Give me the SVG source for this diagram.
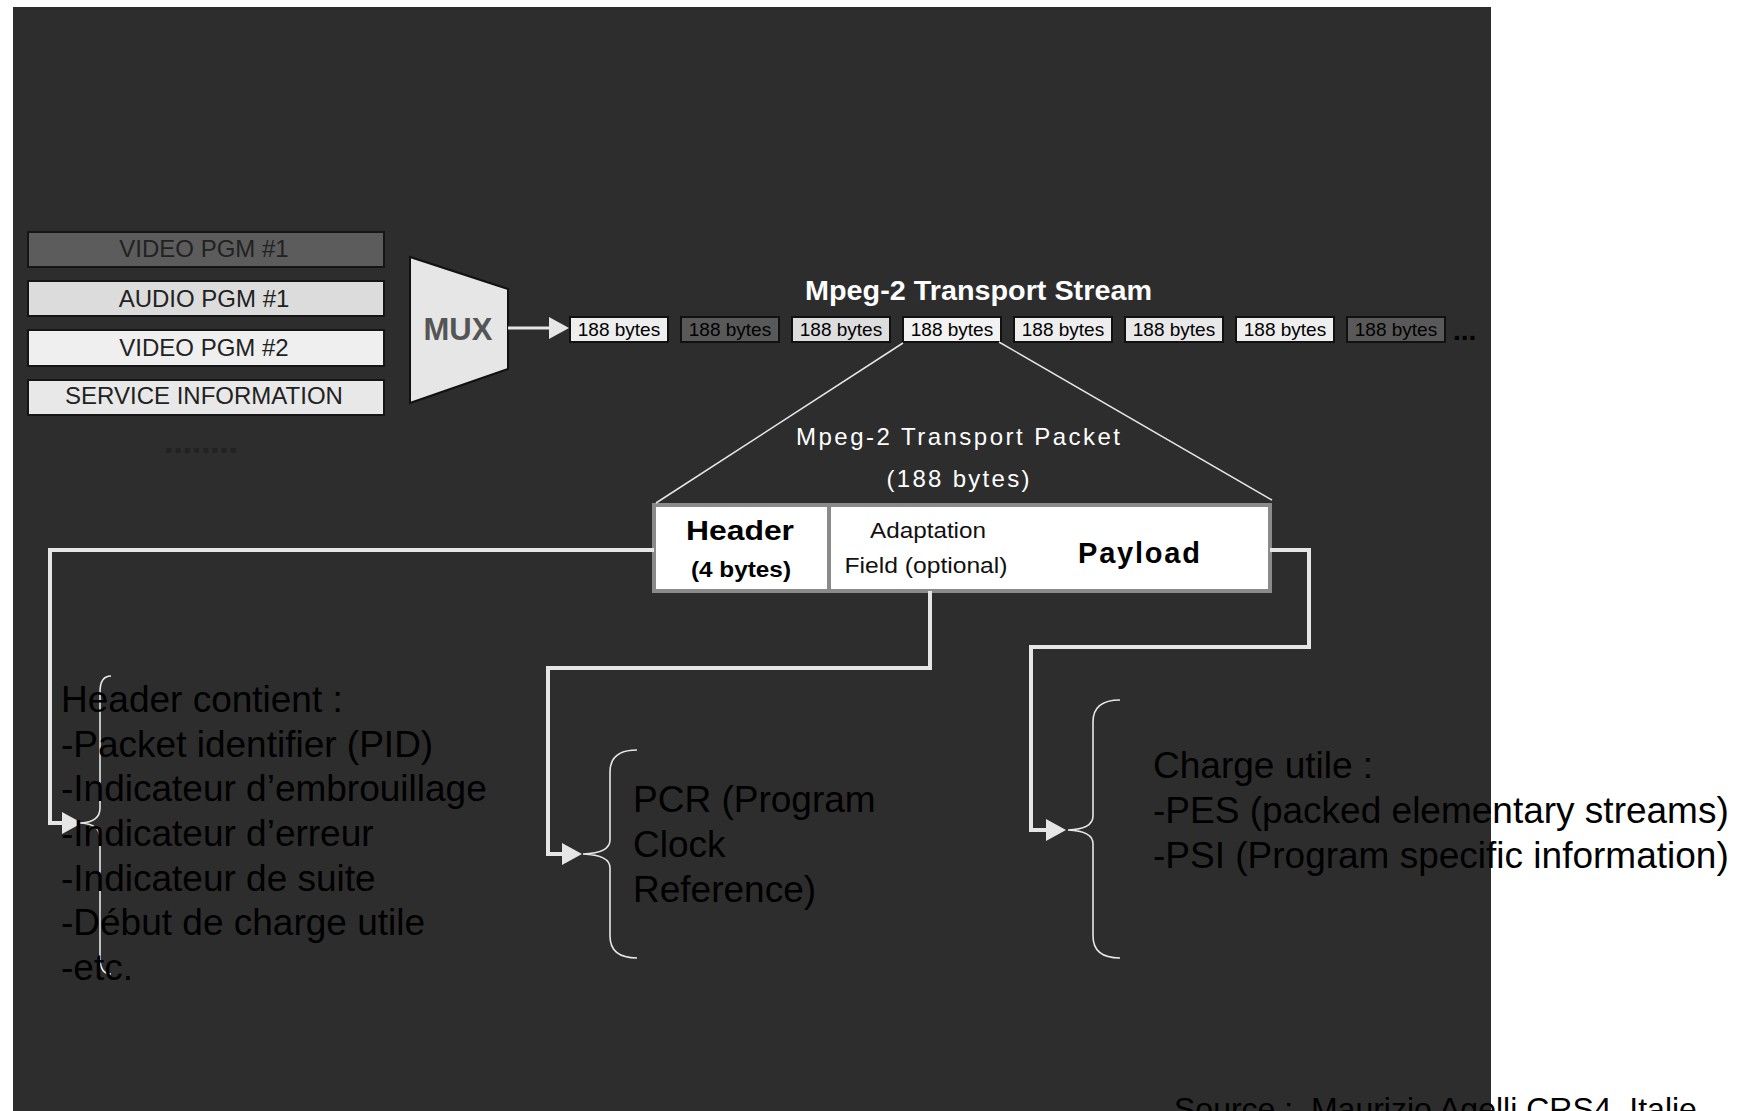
<svg xmlns="http://www.w3.org/2000/svg" width="1751" height="1111" viewBox="0 0 1751 1111">
<style>
text{font-family:"Liberation Sans",Arial,sans-serif}
.src rect{stroke:#151515;stroke-width:2}
.src text{font-size:24px;text-anchor:middle;fill:#222}
.pkt rect{stroke:#111;stroke-width:2}
.pkt text{font-size:19px;text-anchor:middle;fill:#000}
.conn{fill:none;stroke:#e6e6e6;stroke-width:4;stroke-linejoin:miter}
.brace{fill:none;stroke:#e6e6e6;stroke-width:1.6}
.thin{fill:none;stroke:#e6e6e6;stroke-width:1.5}
.note{font-size:37px;fill:#000}
.w{fill:#fff}
</style>
<defs>
<marker id="ah" markerUnits="userSpaceOnUse" viewBox="0 0 20 22" refX="0" refY="11" markerWidth="20" markerHeight="22" orient="auto">
<path d="M0,0 L20,11 L0,22 z" fill="#e6e6e6"/>
</marker>
</defs>
<rect x="0" y="0" width="1751" height="1111" fill="#fff"/>
<rect x="13" y="7" width="1478" height="1104" fill="#2d2d2d"/>

<g id="sources" class="src">
<g id="video1"><rect x="28" y="232" width="356" height="35" fill="#5c5c5c"/><text x="204" y="257" fill="#2a2a2a">VIDEO PGM #1</text></g>
<g id="audio1"><rect x="28" y="281" width="356" height="35" fill="#dcdcdc"/><text x="204" y="307">AUDIO PGM #1</text></g>
<g id="video2"><rect x="28" y="330" width="356" height="36" fill="#efefef"/><text x="204" y="356">VIDEO PGM #2</text></g>
<g id="si"><rect x="28" y="380" width="356" height="35" fill="#e8e8e8"/><text x="204" y="404">SERVICE INFORMATION</text></g>
<text x="164" y="453" class="w" style="font-size:34px;font-weight:bold;text-anchor:start" textLength="74" lengthAdjust="spacing">........</text>
</g>

<g id="mux">
<polygon points="410,257 508,289 508,369 410,403" fill="#e6e6e6" stroke="#111" stroke-width="2"/>
<text x="458" y="340" style="font-size:31px;font-weight:bold;fill:#555;text-anchor:middle">MUX</text>
</g>

<text id="ts-title" x="805" y="300" class="w" style="font-size:27px;font-weight:bold" textLength="347" lengthAdjust="spacingAndGlyphs">Mpeg-2 Transport Stream</text>

<g id="stream" class="pkt">
<g id="p1"><rect x="570" y="317" width="98" height="25" fill="#eeeeee"/><text x="619" y="336">188 bytes</text></g>
<g id="p2"><rect x="681" y="317" width="98" height="25" fill="#595959"/><text x="730" y="336" fill="#333">188 bytes</text></g>
<g id="p3"><rect x="792" y="317" width="98" height="25" fill="#dddddd"/><text x="841" y="336">188 bytes</text></g>
<g id="p4"><rect x="903" y="317" width="98" height="25" fill="#f2f2f2"/><text x="952" y="336">188 bytes</text></g>
<g id="p5"><rect x="1014" y="317" width="98" height="25" fill="#eeeeee"/><text x="1063" y="336">188 bytes</text></g>
<g id="p6"><rect x="1125" y="317" width="98" height="25" fill="#e8e8e8"/><text x="1174" y="336">188 bytes</text></g>
<g id="p7"><rect x="1236" y="317" width="98" height="25" fill="#eeeeee"/><text x="1285" y="336">188 bytes</text></g>
<g id="p8"><rect x="1347" y="317" width="98" height="25" fill="#595959"/><text x="1396" y="336" fill="#333">188 bytes</text></g>
<text x="1453" y="340" class="w" style="font-size:28px;font-weight:bold;text-anchor:start">...</text>
</g>

<g id="packet-label">
<text x="958" y="445" class="w" style="font-size:24px;text-anchor:middle" textLength="324" lengthAdjust="spacing">Mpeg-2 Transport Packet</text>
<text x="958" y="487" class="w" style="font-size:24px;text-anchor:middle" textLength="143" lengthAdjust="spacing">(188 bytes)</text>
</g>

<g id="packet">
<rect x="654" y="505" width="616" height="86" fill="#fff" stroke="#8a8a8a" stroke-width="4"/>
<line x1="829" y1="505" x2="829" y2="591" stroke="#8a8a8a" stroke-width="4"/>
<g id="header-cell">
<text x="740" y="540" style="font-size:28px;font-weight:bold;text-anchor:middle" textLength="108" lengthAdjust="spacingAndGlyphs">Header</text>
<text x="741" y="577" style="font-size:22px;font-weight:bold;text-anchor:middle" textLength="100" lengthAdjust="spacingAndGlyphs">(4 bytes)</text>
</g>
<g id="adaptation-cell">
<text x="928" y="538" style="font-size:22px;fill:#111;text-anchor:middle" textLength="116" lengthAdjust="spacingAndGlyphs">Adaptation</text>
<text x="926" y="573" style="font-size:22px;fill:#111;text-anchor:middle" textLength="163" lengthAdjust="spacingAndGlyphs">Field (optional)</text>
</g>
<g id="payload-cell">
<text x="1139" y="563" style="font-size:29px;font-weight:bold;text-anchor:middle" textLength="122" lengthAdjust="spacing">Payload</text>
</g>
</g>

<g id="connectors">
<line x1="508" y1="328" x2="549" y2="328" stroke="#e6e6e6" stroke-width="3" marker-end="url(#ah)"/>
<line class="thin" x1="903" y1="343" x2="656" y2="503"/>
<line class="thin" x1="999" y1="342" x2="1272" y2="500"/>
<path class="conn" d="M654,550 H50 V823 H62" marker-end="url(#ah)"/>
<path class="conn" d="M930,591 V668 H548 V854 H562" marker-end="url(#ah)"/>
<path class="conn" d="M1270,550 H1309 V647 H1031 V830 H1046" marker-end="url(#ah)"/>
</g>

<g id="braces">
<path class="brace" d="M111,676 Q100,676 100,692 V808 Q100,822 81,823 Q100,824 100,838 V958 Q100,974 111,974"/>
<path class="brace" d="M637,750 Q610,750 610,772 V840 Q610,853 583,854 Q610,855 610,868 V936 Q610,958 637,958"/>
<path class="brace" d="M1120,700 Q1093,700 1093,722 V816 Q1093,829 1068,830 Q1093,831 1093,844 V936 Q1093,958 1120,958"/>
</g>

<g id="header-note" class="note">
<text x="61" y="712">Header contient :</text>
<text x="61" y="757">-Packet identifier (PID)</text>
<text x="61" y="801">-Indicateur d’embrouillage</text>
<text x="61" y="846">-Indicateur d’erreur</text>
<text x="61" y="891">-Indicateur de suite</text>
<text x="61" y="935">-Début de charge utile</text>
<text x="61" y="980">-etc.</text>
</g>

<g id="pcr-note" class="note">
<text x="633" y="812">PCR (Program</text>
<text x="633" y="857">Clock</text>
<text x="633" y="902">Reference)</text>
</g>

<g id="payload-note" class="note">
<text x="1153" y="778">Charge utile :</text>
<text x="1153" y="823">-PES (packed elementary streams)</text>
<text x="1153" y="868">-PSI (Program specific information)</text>
</g>

<text id="source" x="1174" y="1120" xml:space="preserve" style="font-size:32px;fill:#000">Source :  Maurizio Agelli CRS4, Italie</text>
</svg>
